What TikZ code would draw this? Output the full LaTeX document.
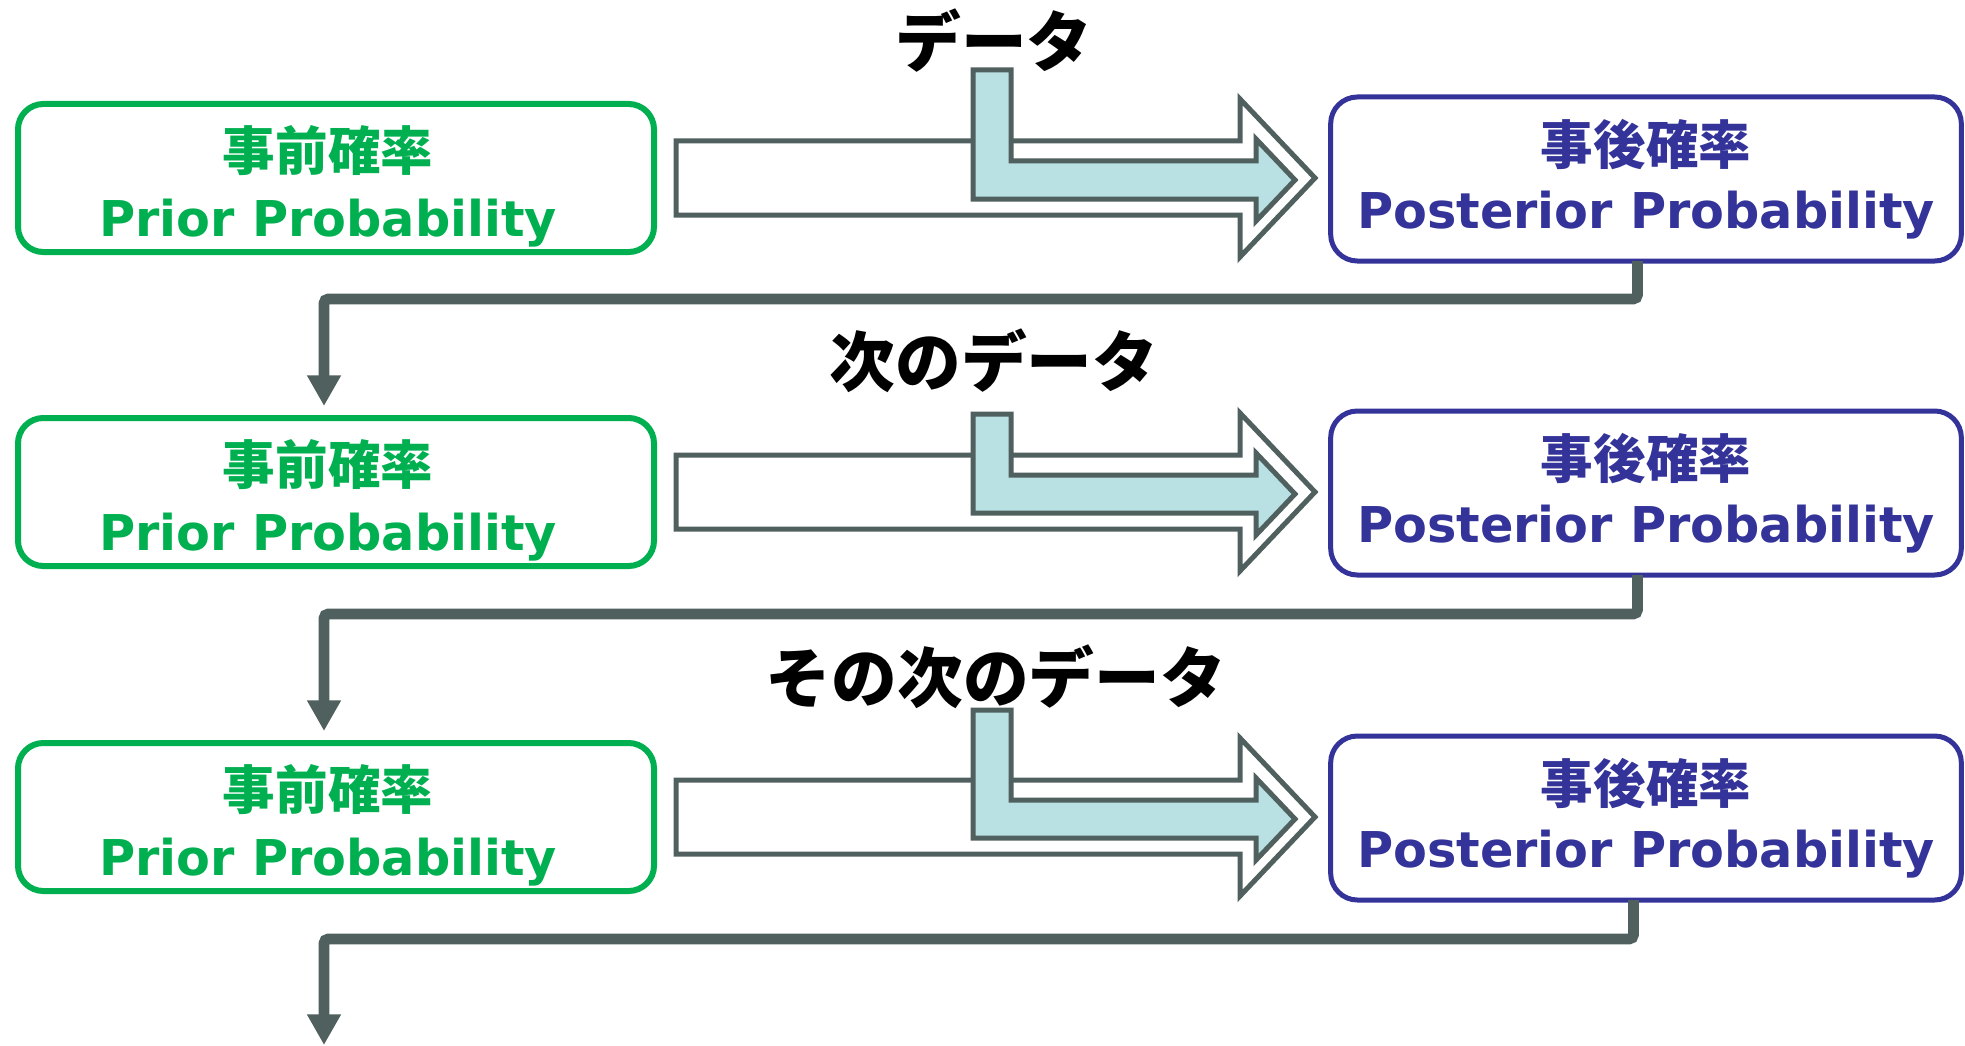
\documentclass[tikz,border=0pt]{standalone}
\usepackage{fontspec}
\setmainfont{DejaVu Sans}
\newfontfamily\jpfont{Noto Sans CJK JP}
\usetikzlibrary{arrows.meta}

\definecolor{priorgreen}{RGB}{0,176,80}
\definecolor{postblue}{RGB}{51,51,153}
\definecolor{arrgray}{RGB}{79,96,94}
\definecolor{datablue}{RGB}{185,224,227}

\tikzset{
	prior/.style={draw=priorgreen, line width=4.5pt, rounded corners=19pt, outer sep=0pt,
		minimum width=477pt, minimum height=111pt, text=priorgreen, align=center,
		font=\bfseries\fontsize{37}{49}\selectfont},
	posterior/.style={draw=postblue, line width=3.75pt, rounded corners=20pt, outer sep=0pt,
		minimum width=473pt, minimum height=123pt, text=postblue, align=center,
		font=\bfseries\fontsize{37}{48}\selectfont},
	hollowarr/.style={draw=arrgray, fill=white, line width=3.75pt},
	dataarr/.style={draw=arrgray, fill=datablue, line width=3.75pt},
	datalabel/.style={font=\jpfont\bfseries\fontsize{49.3}{58}\selectfont, inner sep=0pt},
	link/.style={draw=arrgray, line width=7.9pt, rounded corners=3pt, shorten >=9pt,
		-{Triangle[length=23pt,width=24pt]}}}
\newcommand{\jpline}[1]{{\jpfont\fontsize{39.4}{49}\selectfont #1}}
% prior text sits a little low and to the left in its box
\newcommand{\priortext}{\rule{0pt}{46pt}\jpline{事前確率}\hspace*{12pt}\\Prior Probability\hspace*{12pt}}
\newcommand{\posttext}{\jpline{事後確率}\\Posterior Probability}

\begin{document}
\begin{tikzpicture}[x=0.75pt,y=0.75pt,yscale=-1]
	\useasboundingbox (0,0) rectangle (1965,1045);

	% Boxes
	\node[prior] (pri1) at (336,178) {\priortext};
	\node[posterior] (pos1) at (1646,179) {\posttext};
	\node[prior] (pri2) at (336,492) {\priortext};
	\node[posterior] (pos2) at (1646,493) {\posttext};
	\node[prior] (pri3) at (336,817) {\priortext};
	\node[posterior] (pos3) at (1646,818) {\posttext};

	%Shape: Right Arrow (prior -> posterior)
	\draw[hollowarr, shift={(pri1.east)}] (22,-37) -- (586,-37) -- (586,-79) -- (661,0) -- (586,79) -- (586,37) -- (22,37) -- cycle;
	\draw[hollowarr, shift={(pri2.east)}] (22,-37) -- (586,-37) -- (586,-79) -- (661,0) -- (586,79) -- (586,37) -- (22,37) -- cycle;
	\draw[hollowarr, shift={(pri3.east)}] (22,-37) -- (586,-37) -- (586,-79) -- (661,0) -- (586,79) -- (586,37) -- (22,37) -- cycle;

	%Shape: Bent Arrow (data coming in)
	\draw[dataarr, shift={(pri1.east)}] (319,-108) -- (357,-108) -- (357,-17) -- (602,-17) -- (602,-39) -- (641,2) -- (602,43) -- (602,21) -- (319,21) -- cycle;
	\draw[dataarr, shift={(pri2.east)}] (319,-78) -- (357,-78) -- (357,-17) -- (602,-17) -- (602,-39) -- (641,2) -- (602,43) -- (602,21) -- (319,21) -- cycle;
	\draw[dataarr, shift={(pri3.east)}] (319,-107) -- (357,-107) -- (357,-17) -- (602,-17) -- (602,-39) -- (641,2) -- (602,43) -- (602,21) -- (319,21) -- cycle;

	% Text Node
	\node[datalabel] (dat1) at (994,41) {データ};
	% Text Node
	\node[datalabel] (dat2) at (994,361) {次のデータ};
	% Text Node
	\node[datalabel] (dat3) at (996,677) {その次のデータ};

	%Elbow Lines: posterior feeds the next prior
	\draw[link] ([xshift=-6.4pt]pos1.south) -- ++(0,38) -| ([xshift=-9pt]pri2.north);
	\draw[link] ([xshift=-6.4pt]pos2.south) -- ++(0,39) -| ([xshift=-9pt]pri3.north);
	\coordinate (cont) at (324,1045);
	\draw[link, shorten >=0pt] ([xshift=-9.4pt]pos3.south) -- ++(0,39) -| (cont);

\end{tikzpicture}
\end{document}
